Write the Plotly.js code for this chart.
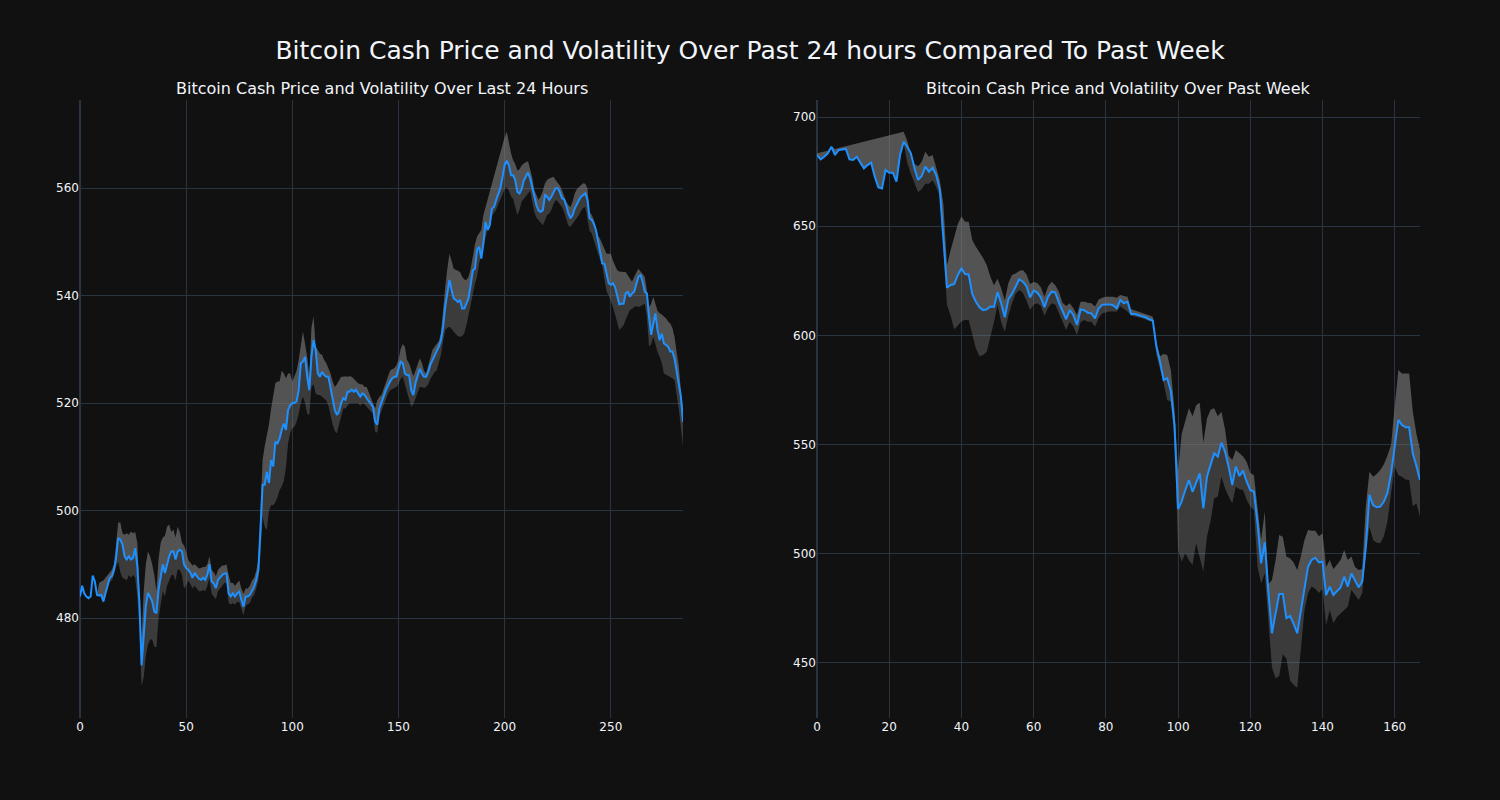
<!DOCTYPE html>
<html>
<head>
<meta charset="utf-8">
<script src="https://cdn.plot.ly/plotly-3.0.1.min.js"></script>
<style>html,body{margin:0;padding:0;background:rgb(17,17,17);}#chart{width:1500px;height:800px;}</style>
</head>
<body>
<div id="chart"></div>
<script>
// ---- Last 24 hours (left) ----
const dayPrice = [484,486,484.6,484,483.7,484,487.9,486.8,484.3,484.2,
484.3,483.1,484.6,486.2,487.5,487.8,489,491.2,494.9,494.6,
493.7,491.5,490.9,491.5,490.9,491.2,493,489.6,482.8,471.2,
476.6,482.2,484.7,484,483.1,481.2,480.9,485.3,487.8,490,
488.4,490,491.5,492.4,492.4,490.9,492.4,492.7,492.4,490,
489.3,489,488.4,487.5,488.4,487.8,487.3,487.1,487.5,487.1,
488.1,490,486.8,486.4,485.6,487.1,487.6,488,488.3,488.3,
484.6,484,484.6,484,484.6,484.9,483.4,482.1,484,484,
484.3,485.2,485.8,487.1,488.9,496.4,504.8,504.8,507.2,505.1,
509.4,508.2,512.8,512.5,513.4,515,516.2,515,518.7,519.6,
520,520,520.3,522.4,527.4,527.7,528.6,524.9,522.4,528.6,
531.7,529.9,525.5,524.9,525.8,525.2,524.9,524.9,523,520.6,
518.7,517.8,518.4,520,520.9,520.6,522.1,522.1,522.5,522.1,
522.5,521.8,521.2,521.8,521.5,520.9,520.3,519.8,519.3,516.6,
516,519,520,521.2,522.4,523.3,524,524.6,524.9,524.9,
526.1,527.7,527.4,525.5,525.2,525.2,522.4,521.5,523.7,524.9,
526.4,525.5,524.9,524.9,525.8,527.1,528,528.9,529.5,530.5,
531.7,534.2,537.9,540.7,542.9,541,539.5,539.2,538.8,539.2,
537.6,537.6,538.5,539.5,542,544.7,545,548.5,549.1,546.9,
549.7,553.7,552.2,553.1,556.2,556.5,557.8,559,560,562.1,
564.3,565.1,564.3,562.4,562.4,561.5,559.3,559,559.8,561.4,
562.2,562.9,561.8,560,558.1,556.8,555.8,555.6,555.9,558.7,
558.4,557.8,558.4,559.3,560,560,559.3,558.1,557.9,556.8,
555.3,554.4,555,556.2,557.1,557.8,558.4,558.7,559,557.8,
554.4,554.1,553.4,552.2,550.3,548.5,546,545.9,544.1,542.3,
542,542.3,541.6,540.1,538.4,538.5,538.5,540.4,540.7,539.8,
540.4,540.7,542.3,543.5,543.8,542.6,540.7,540.4,536.1,532.7,
534.8,536.7,533.6,531.7,532.9,531.1,530.8,530.5,529.6,529.6,
528.3,526.1,523.7,521.2,516.5];

const dayUpper = [484,486,484.6,484,483.7,484,487.9,486.8,484.3,
486.5,486.8,487,487.5,488,488.5,489,490,
494,497.8,497.8,495.8,495.5,495.8,495.5,496.1,495.8,496,494,
484,476,485,490,492.4,491.5,490,488,485,
491,494,495,495.3,497,497.4,496,496.5,495,497,496,494,493.5,492.4,
490.8,490.3,489.8,490,489.5,489.2,489.3,489.5,489.5,490,491.5,489,488.5,487.8,489,489.5,489.8,
489.8,490,488,486.5,486.5,486,486.5,487,485.5,484.5,485.5,485.5,486,487,487.5,488.8,490.8,
500,509.4,512,514,516,519,521,523.7,524,524,526,525.5,524.6,525.5,525.5,524,525,526,528,531,
533.3,531,528.6,525,534,536.1,530.5,529.9,529.2,529,528,527.4,526.5,525.5,524,523,523.5,524.3,524.9,524.9,
525,524.9,525,524.9,524.5,524.2,523.7,523.5,523.5,523,523,522,521,520,519,520.5,521.2,
521.5,522.7,524,525,526,526.3,526.5,527,528,530,531,530.5,528,527.4,526,525,526,527,528.3,527.5,
526,525.5,527,528.5,529.9,530.5,531,531.5,533,538,541.5,545,547.8,546.5,545,544.8,544.6,544.4,543.5,543,
542.9,543.5,545,547.5,549.5,551,551.5,552.2,555,556.5,557.5,559,560.5,562.1,563.5,565.5,567,568.3,569.5,570.5,
568.3,566.5,565.2,564.5,563.3,563.5,564.2,564.6,564.8,565,
563.5,562,559.6,558.5,557.8,558.5,559.5,560.9,561.5,561.8,562,562.1,561.5,561,560.5,559.6,558.5,557.5,556.8,556.5,
557.5,559,559.8,560.3,560.6,560.9,560.8,560,555.6,555,554.1,552.5,551.2,550.5,549.7,548.8,547.8,547.8,547.8,546.5,
545.5,544.7,544.5,544.4,544.4,544.4,543.8,543.2,542.6,543.5,544.2,545,544.5,544,543.5,541,537.9,538.5,539.8,538.5,
537.2,536.7,536.5,536.1,535.8,535.2,534.8,534,532.3,529.5,527,522.4,519];

const dayLower = [484,486,484.6,484,483.7,484,487.9,486.8,484.3,
484,484,482.8,484.2,485.5,486.8,487,488,
489.5,490.5,488.5,487.5,487.3,487,488,487.5,488,487.5,484,
478,467.3,469,473,475,476,476,474.7,474.5,
480,483,485,484,486,487,488,488,487,489,489,488,485.5,486,
487,486.3,485.5,486,485.5,485,485,485.2,485,486,487.5,484.5,484,483.5,485,485.5,486,
486.5,486.5,482.8,482.5,482.8,482.5,483,483,481.5,480.5,482.3,482.5,482.8,483.8,484.3,485.5,487,
492,498.9,497,496.4,500,501,501,501.5,502.5,503.8,504.5,505.5,508,512.5,514.5,515.3,515.6,516.5,518,520,
521.2,520,518,517.8,523,523.5,521.8,521.5,521.5,521.2,520.8,520.5,519.5,517.5,516,514.8,514.4,516,517.5,519,
519,519.5,520,520,520,520,520,519.5,520,519.8,519.3,519,518.5,518,514.7,514.5,517.5,
518.5,519.7,520.8,521.7,522.4,522.6,522.8,523,523.5,524.5,524.9,523.5,522,520.5,519.3,519.8,521,522,523,523,
522.8,523,523.5,524.5,525.2,525.8,526.1,527.5,529,531.5,533.6,534,534.2,533.8,533.2,532.8,532.5,532.3,532.5,533,
534.5,536.5,538.5,540.5,542.2,543.5,546,547.5,549,551,552.5,554,554.8,555.5,556,557,558,559,559.8,560.2,
559.5,558.5,558,556.5,555,556,557.5,558,558.5,559,
559.5,557.5,555.5,554.5,554,553.5,553.1,554,555,555.3,556,557,557.8,557.5,557,556.5,555.5,554,553,552.8,
553.3,554,554.5,555,555.8,556.3,556.5,554.5,552,551.6,550.5,549,547.8,546.5,545.4,543,540.8,540,539,537.9,
536.5,535,533.6,534,534.5,535.5,536.5,537.3,537.5,537.9,538,537.9,538,538.3,538.5,536,530.5,531,532.3,531,
529.5,528.6,527.5,525.5,525.3,525,524.9,524.6,524.3,522,519,515.5,511.9];

// ---- Past week (right) ----
const weekPrice = [682.6,680.6,681.8,683.4,686.4,682.6,684.9,685.2,685.4,680.6,
680.3,681.8,678.8,676.5,678,679.1,672.7,667.8,667.3,675.7,
674.5,674.5,670.4,682.6,688.7,686.4,683.4,676.5,671.2,673,
677.3,675,676.8,673.4,667,644,621.8,623.1,623.5,627.7,
630.7,628.1,627.9,619,615.4,612.9,611.6,611.9,613.2,613,
619.8,614.7,608.3,616.5,619,622.3,625.7,624.6,622.6,617.4,
620.5,619.6,617.4,612.9,617.7,620,619.6,615,610.9,607.4,
611.6,609.4,604.8,611.9,611.6,610.4,610.1,607.8,612.4,614,
614.2,614.2,613.8,612.4,616.2,614.7,615.5,609.8,609.8,609.3,
608.9,608.3,607.4,606.8,594.8,588,579.6,580.4,574.5,559,
520.5,524,529.2,533.8,528.4,533,536.8,520.8,535.3,540.7,
546,544.5,550.9,546.8,539.9,531.5,539.9,535.6,538.1,533,
529.2,528.4,514,495.6,505.3,483,463.6,472.7,481.6,481.6,
470.5,471.5,468,463.6,474.3,484.7,494.1,497.2,498.2,496.1,
496.4,481.1,485,481.1,482.7,484.6,489.5,485,491,487.7,
484.6,487.2,503.3,527,522.3,521.3,521.6,523.9,528,536.9,
549.1,561.3,559,557.9,557.9,546,540.2,533.8];

const weekUpper = [683.4,683.8,684.2,684.6,686.4,685.4,685.8,686.2,686.6,687,
687.4,687.8,688.2,688.6,689,689.4,689.8,690.2,690.6,691,
691.4,691.8,692.2,692.6,693.3,
689,683,678.5,677.5,679.5,684.1,681.8,682.6,677,671,
660,632,639,645,651,654.4,652.1,652,643.7,640.6,638,635.5,632.2,627,623,626,621.6,616,624,627.7,628.4,
629.5,630,628,623.5,624.5,624,622,617.7,622.5,624.6,623,620,615,613.5,614.7,612.4,609.4,615.4,615.4,615,
614.7,613.2,616.5,617.3,617.7,617.7,617.7,617.2,618.5,618,617.7,
612,611.5,611,610.5,610,609.2,608.5,
596.5,590.5,591.5,591,584,566,538,555,561,566.6,563,568,569.2,551,562,566,566.6,563,565,557,545,543,547.5,546,544.5,542,537,536,520,506.3,519.3,
486,488,497,508.6,507.8,498.7,498,496,492.6,498.7,506.3,510.9,510.5,510.5,508,509.4,494,497.2,493,495,497.2,
501.7,497.2,498.7,494,492.6,493,522,537.6,535.3,536.5,538.4,541,545,550,567.4,584.2,582.6,582.6,582.6,565.1,555,547.5];

const weekLower = [682.6,680.6,681.8,683.4,686.4,682.6,684.9,685.2,685.4,680.6,
680.3,681.8,678.8,676.5,678,679.1,672.7,667.8,667.3,675.7,
674.5,674.5,670.4,682.6,
688,679,674,670,665.5,667,669.5,669.5,671,668,664,640,614,609,602.8,604.5,
606.5,607.1,607,600.5,594,590.5,591,592.5,598.7,606,614,606,601.7,609,614.7,619,
620.8,619.5,616,611.6,614,614.7,613.5,609,612.5,614.7,614,610.1,606,602.5,606.3,604,600.2,606,607.1,606.3,
606.3,604,608,610.1,610.5,610.9,610.9,610.9,613.2,612,611,
609,608.8,608.3,607.8,607.3,606.5,606,
591,585,578.1,570.4,569.6,553,501.7,496.4,500.2,497,494.9,504.8,498,491.8,507.9,515,525.4,526.2,535.3,530,
526.2,523.1,530.7,529.5,529.2,524.6,521.6,520.1,494.1,486.5,491,
470,448,443,444,454,452,442,440,438.6,455,474,482,485,484,482,484,467.4,474.3,468.2,471,
472.7,474.3,475.8,483.4,481,478.8,482,500,512.4,506.3,505,504.8,508,515,528,539.9,536,535.3,534,533.8,
521.6,523.1,517];

const dayTitle = "Bitcoin Cash Price and Volatility Over Last 24 Hours";
const weekTitle = "Bitcoin Cash Price and Volatility Over Past Week";
const mainTitle = "Bitcoin Cash Price and Volatility Over Past 24 hours Compared To Past Week";

const dayIdx = dayPrice.map((_, i) => i);
const weekIdx = weekPrice.map((_, i) => i);

const BLUE = '#1E90FF';
const LOWFILL = 'rgba(128,128,128,0.38)';
const UPFILL = 'rgba(128,128,128,0.6)';
const FONT = '"DejaVu Sans", Verdana, sans-serif';

function bandTraces(x, price, upper, lower, xa, ya) {
  return [
    {x: x, y: lower, xaxis: xa, yaxis: ya, mode: 'lines', line: {width: 0, color: 'rgba(0,0,0,0)'}, hoverinfo: 'skip', showlegend: false},
    {x: x, y: price, xaxis: xa, yaxis: ya, mode: 'lines', line: {width: 0, color: 'rgba(0,0,0,0)'}, fill: 'tonexty', fillcolor: LOWFILL, hoverinfo: 'skip', showlegend: false},
    {x: x, y: upper, xaxis: xa, yaxis: ya, mode: 'lines', line: {width: 0, color: 'rgba(0,0,0,0)'}, fill: 'tonexty', fillcolor: UPFILL, hoverinfo: 'skip', showlegend: false},
    {x: x, y: price, xaxis: xa, yaxis: ya, mode: 'lines', line: {width: 2, color: BLUE}, showlegend: false}
  ];
}

const data = [].concat(
  bandTraces(dayIdx, dayPrice, dayUpper, dayLower, 'x', 'y'),
  bandTraces(weekIdx, weekPrice, weekUpper, weekLower, 'x2', 'y2')
);

const axisCommon = {
  gridcolor: '#283442', zerolinecolor: '#283442', zerolinewidth: 2,
  linecolor: '#506784', showline: false, ticks: '',
  tickfont: {family: FONT, size: 12, color: '#f2f5fa'}
};

const layout = {
  width: 1500, height: 800,
  paper_bgcolor: 'rgb(17,17,17)', plot_bgcolor: 'rgb(17,17,17)',
  font: {family: FONT, color: '#f2f5fa'},
  margin: {l: 80, r: 80, t: 100, b: 82},
  title: {text: mainTitle, x: 0.5, xanchor: 'center', xref: 'paper', y: 0.9375, yref: 'container', yanchor: 'middle', font: {family: FONT, size: 25, color: '#f2f5fa'}},
  showlegend: false,
  xaxis: Object.assign({}, axisCommon, {domain: [0, 0.45], range: [0, 284], dtick: 50, anchor: 'y'}),
  yaxis: Object.assign({}, axisCommon, {domain: [0, 1], range: [461.4, 576.4], dtick: 20, anchor: 'x'}),
  xaxis2: Object.assign({}, axisCommon, {domain: [0.55, 1], range: [0, 167], dtick: 20, anchor: 'y2'}),
  yaxis2: Object.assign({}, axisCommon, {domain: [0, 1], range: [424.8, 707.8], dtick: 50, anchor: 'x2'}),
  annotations: [
    {text: dayTitle, x: 0.225, y: 1, xref: 'paper', yref: 'paper', xanchor: 'center', yanchor: 'bottom', showarrow: false, font: {family: FONT, size: 16, color: '#f2f5fa'}},
    {text: weekTitle, x: 0.775, y: 1, xref: 'paper', yref: 'paper', xanchor: 'center', yanchor: 'bottom', showarrow: false, font: {family: FONT, size: 16, color: '#f2f5fa'}}
  ]
};

Plotly.newPlot('chart', data, layout, {displayModeBar: false, staticPlot: true});
</script>
</body>
</html>
